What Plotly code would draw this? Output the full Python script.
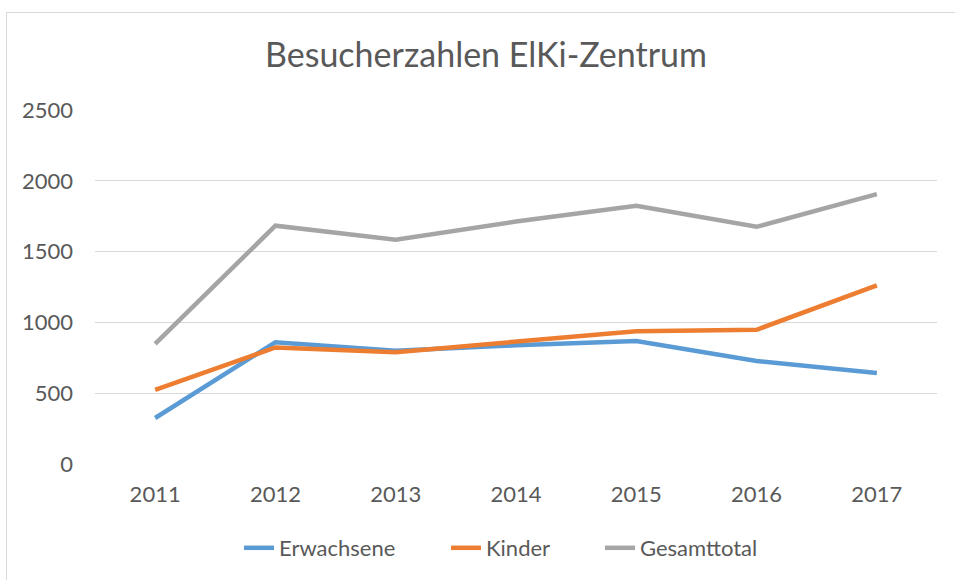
import plotly.graph_objects as go

years = ["2011", "2012", "2013", "2014", "2015", "2016", "2017"]
erwachsene = [325, 860, 800, 838, 868, 728, 642]
kinder = [523, 823, 790, 866, 938, 948, 1261]
gesamt = [848, 1683, 1584, 1712, 1823, 1675, 1906]
y_ticks = [0, 500, 1000, 1500, 2000, 2500]

series = [
    ("Erwachsene", erwachsene, "#5B9BD5"),
    ("Kinder", kinder, "#ED7D31"),
    ("Gesamttotal", gesamt, "#A5A5A5"),
]

W, H = 955, 580
L, R, T, B = 95, 18, 110, 116
pw, ph = W - L - R, H - T - B

# legend item left edges (container pixels) for each series
legend_left = [239, 446, 600]
legend_keys = ["legend", "legend2", "legend3"]

fig = go.Figure()
for (name, vals, col), lk in zip(series, legend_keys):
    fig.add_trace(go.Scatter(
        x=years, y=vals, name=name, mode="lines",
        line=dict(color=col, width=4.5), legend=lk,
    ))

def px(x):
    return (x - L) / pw

def py(y):
    return (H - B - y) / ph

legend_common = dict(orientation="h", xref="container", xanchor="left",
                     yref="container", yanchor="middle", y=1 - 548 / H,
                     font=dict(size=22, color="#595959"),
                     bgcolor="rgba(0,0,0,0)", borderwidth=0)

fig.update_layout(
    width=W, height=H,
    margin=dict(l=L, r=R, t=T, b=B),
    paper_bgcolor="white", plot_bgcolor="white",
    font=dict(family="Lato, Carlito, Calibri, sans-serif", color="#595959", size=22),
    title=dict(text="Besucherzahlen ElKi-Zentrum", x=486 / W, xref="container",
               xanchor="center", y=1 - 55 / H, yref="container", yanchor="middle",
               font=dict(size=34, color="#595959")),
    showlegend=True,
    legend=dict(x=legend_left[0] / W, **legend_common),
    legend2=dict(x=legend_left[1] / W, **legend_common),
    legend3=dict(x=legend_left[2] / W, **legend_common),
    xaxis=dict(type="category", range=[-0.5, len(years) - 0.5], showgrid=False,
               showline=False, zeroline=False, ticks="", ticklabelstandoff=15,
               tickfont=dict(size=22, color="#595959")),
    yaxis=dict(range=[0, 2500], tickvals=y_ticks, showgrid=True, gridcolor="#D9D9D9",
               gridwidth=1, zeroline=False, showline=False, ticks="",
               ticklabelstandoff=21, tickfont=dict(size=22, color="#595959")),
    shapes=[
        dict(type="line", xref="paper", yref="paper", x0=px(6), x1=px(W + 5),
             y0=py(12.5), y1=py(12.5), line=dict(color="#D9D9D9", width=1)),
        dict(type="line", xref="paper", yref="paper", x0=px(6.5), x1=px(6.5),
             y0=py(12), y1=py(H + 5), line=dict(color="#D9D9D9", width=1)),
    ],
)

fig.write_html("out.html", config={"displayModeBar": False},
               post_script="document.body.style.margin='0';")
